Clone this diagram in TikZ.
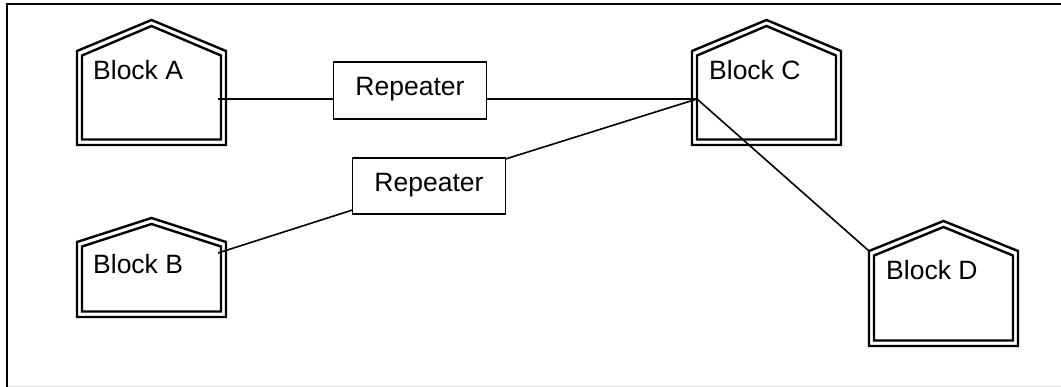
\documentclass[tikz,border=0pt]{standalone}
\usepackage{fontspec}
\setmainfont{Liberation Sans}
\tikzset{
  x=1pt,y=-1pt,
  wall/.style={draw=black,line width=2.4pt,miter limit=10,line join=miter},
  wire/.style={draw=black,line width=1.6pt},
  repbox/.style={draw=black,line width=1.8pt,fill=white,minimum width=153pt,minimum height=56.5pt,inner sep=0pt,text height=15pt,text depth=4pt,font=\fontsize{26.5}{30}\selectfont},
  blocklabel/.style={anchor=base west,inner sep=0pt,font=\fontsize{26.5}{30}\selectfont},
}
% \houseshape{left}{apex y}{shoulder y}{bottom}
\newcommand{\houseshape}[4]{%
  \draw[wall] (#1,#3) -- (#1+74.5,#2) -- (#1+149,#3) -- (#1+149,#4) -- (#1,#4) -- cycle;
  \draw[wall] (#1+5,#3+4.5) -- (#1+74.5,#2+6) -- (#1+144,#3+4.5) -- (#1+144,#4-5.5) -- (#1+5,#4-5.5) -- cycle;
}
\begin{document}
\begin{tikzpicture}
\useasboundingbox (0,0) rectangle (1061,387);
% frame
\draw[line width=1pt,draw=black!12] (7,386.5) -- (1061,386.5);
\draw[line width=2pt] (7,387) -- (7,3.7) -- (1061,3.7);
% blocks
\houseshape{77}{20}{51}{145}
\houseshape{77}{218}{242}{317}
\houseshape{692}{20}{51}{145}
\houseshape{869}{221}{251}{346}
\node[blocklabel] (blockA) at (93,80) {Block A};
\node[blocklabel] (blockB) at (93,274) {Block B};
\node[blocklabel] (blockC) at (709,80) {Block C};
\node[blocklabel] (blockD) at (886,280) {Block D};
% repeaters
\node[repbox] (rep1) at (410,90.5) {Repeater};
\node[repbox] (rep2) at (429,186) {Repeater};
% ports
\coordinate (portA) at (218,99);
\coordinate (portB) at (218,253);
\coordinate (portC) at (697,99);
\coordinate (portD) at (869,251);
\coordinate (rep2in) at (352.5,210);
\coordinate (rep2out) at (505.5,159);
% connectors
\draw[wire] (portA) -- (portA -| rep1.west);
\draw[wire] (portC -| rep1.east) -- (portC);
\draw[wire] (portB) -- (rep2in);
\draw[wire] (rep2out) -- (portC);
\draw[wire] (portC) -- (portD);
\end{tikzpicture}
\end{document}
